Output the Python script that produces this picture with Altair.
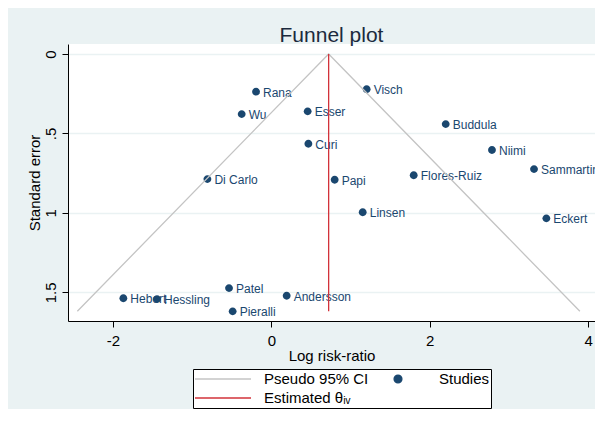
import altair as alt
import pandas as pd

# ---- data ----
studies = ["Rana", "Wu", "Esser", "Visch", "Curi", "Di Carlo", "Papi", "Buddula",
           "Niimi", "Sammartino", "Flores-Ruiz", "Linsen", "Eckert", "Hebert",
           "Hessling", "Patel", "Pieralli", "Andersson"]
log_rr = [-0.194, -0.375, 0.458, 1.203, 0.467, -0.808, 0.799, 2.201,
          2.785, 3.316, 1.797, 1.153, 3.472, -1.869,
          -1.444, -0.535, -0.489, 0.193]
std_err = [0.237, 0.378, 0.361, 0.222, 0.565, 0.787, 0.791, 0.441,
           0.604, 0.724, 0.763, 0.996, 1.034, 1.537,
           1.542, 1.473, 1.619, 1.521]

ci_x = [-2.45, 0.723, 3.895]
ci_se = [1.619, 0.0, 1.619]
theta_x = [0.723, 0.723]
theta_se = [0.0, 1.619]

series_names = ["Pseudo 95% CI", "Studies", "Estimated θᵢᵥ"]
series_colors = ["#c4c4c4", "#1a476f", "#d2323a"]
DOT = "M-0.14,0A0.14,0.14,0,1,0,0.14,0A0.14,0.14,0,1,0,-0.14,0Z"
series_shapes = ["stroke", DOT, "stroke"]

y_ticks = [0, 0.5, 1, 1.5]
x_ticks = [-2, 0, 2, 4]

FONT = "Liberation Sans"

study_df = pd.DataFrame({"study": studies, "x": log_rr, "y": std_err,
                         "series": "Studies"})
ci_df = pd.DataFrame({"x": ci_x, "y": ci_se, "series": series_names[0]})
th_df = pd.DataFrame({"x": theta_x, "y": theta_se, "series": series_names[2]})

xscale = alt.Scale(domain=[-2.568, 4.086], nice=False, zero=False)
yscale = alt.Scale(domain=[-0.0629, 1.680], nice=False, zero=False, reverse=True)

xaxis = alt.Axis(values=x_ticks, title="Log risk-ratio", grid=False,
                 labelExpr="datum.value < 0 ? '-' + format(-datum.value, 'd') : format(datum.value, 'd')",
                 tickSize=6, tickColor="#000", domainColor="#000",
                 labelFontSize=15, titleFontSize=15, labelPadding=6,
                 titlePadding=0, labelColor="#000", titleColor="#000",
                 titleFontWeight="normal", labelFont=FONT, titleFont=FONT)
yaxis = alt.Axis(values=y_ticks, title="Standard error", grid=True,
                 gridColor="#eaf2f3", gridWidth=1.5,
                 labelExpr="datum.value == 0.5 ? '.5' : format(datum.value, '~g')",
                 labelAngle=270, labelAlign="center", labelBaseline="alphabetic",
                 labelPadding=6.5, tickSize=6, tickColor="#000", domainColor="#000",
                 labelFontSize=15, titleFontSize=15, titlePadding=1.5,
                 labelColor="#000", titleColor="#000", titleFontWeight="normal",
                 labelFont=FONT, titleFont=FONT)

legend = alt.Legend(orient="none", legendX=125, legendY=325, direction="horizontal",
                    columns=2, title=None, labelFontSize=15, labelFont=FONT,
                    labelColor="#000", strokeColor="#000", fillColor="#ffffff",
                    padding=1, rowPadding=1, columnPadding=0, labelOffset=12,
                    symbolSize=3136, clipHeight=18, symbolStrokeWidth=1.3)

color = alt.Color("series:N", scale=alt.Scale(domain=series_names, range=series_colors),
                  legend=legend)
shape = alt.Shape("series:N", scale=alt.Scale(domain=series_names, range=series_shapes),
                  legend=legend)

X = alt.X("x:Q", scale=xscale, axis=xaxis)
Y = alt.Y("y:Q", scale=yscale, axis=yaxis)

points = alt.Chart(study_df).mark_point(filled=True, opacity=1, strokeWidth=0,
                                        size=3136).encode(
    x=X, y=Y, color=color, shape=shape)

labels = alt.Chart(study_df).mark_text(align="left", baseline="middle", dx=7, dy=1,
                                       fontSize=12, font=FONT, color="#1a476f").encode(
    x=X, y=Y, text="study:N")

ci = alt.Chart(ci_df).mark_line(strokeWidth=1.3).encode(x=X, y=Y, color=color)
th = alt.Chart(th_df).mark_line(strokeWidth=1.3).encode(x=X, y=Y, color=color)

chart = alt.layer(points, labels, ci, th).properties(
    width=527, height=277,
    title=alt.TitleParams("Funnel plot", fontSize=21, font=FONT, fontWeight="normal",
                          color="#1b2a3d", anchor="middle", offset=-2),
    autosize=alt.AutoSizeParams(type="none"),
    padding={"left": 60, "top": 36, "right": 0, "bottom": 88},
    background="#eaf2f3",
).configure_view(fill="#ffffff", stroke=None)

chart.save("out.html", embed_options={"renderer": "svg", "actions": False})
